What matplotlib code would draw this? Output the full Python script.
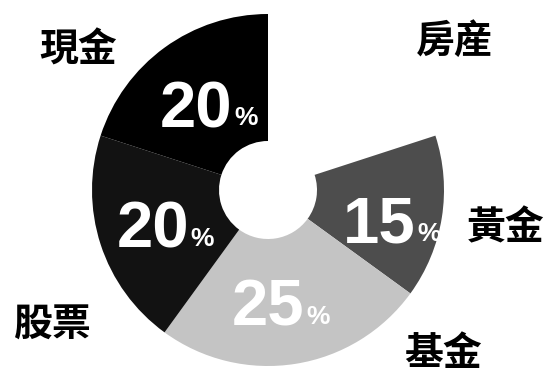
import numpy as np
import matplotlib.pyplot as plt

# data
categories = ['房産', '黃金', '基金', '股票', '現金']
shares = [20, 15, 25, 20, 20]
colors = ['#ffffff', '#4d4d4d', '#c4c4c4', '#121212', '#000000']
show_pct = [False, True, True, True, True]

# layout (pixel units, origin bottom-left)
W, H = 547, 373
cx, cy = 268, 183
R, r_in = 176, 49

fig = plt.figure(figsize=(W / 100, H / 100), dpi=100)
ax = fig.add_axes([0, 0, 1, 1])

wedges, _ = ax.pie(shares, colors=colors, startangle=90, counterclock=False,
                   center=(cx, cy), radius=R,
                   wedgeprops=dict(width=R - r_in, linewidth=0))
ax.set_xlim(0, W)
ax.set_ylim(0, H)
ax.set_aspect('equal')
ax.axis('off')

# percentage labels: radius fraction and angle tweak per slice
pct_r = [0.6, 0.74, 0.68, 0.62, 0.56]
pct_da = [0, -7, -2, 4, 0]
cjk = ['Noto Sans CJK TC', 'DejaVu Sans']

for w, v, show, rf, da in zip(wedges, shares, show_pct, pct_r, pct_da):
    if not show:
        continue
    mid = np.deg2rad((w.theta1 + w.theta2) / 2 + da)
    x = cx + rf * R * np.cos(mid)
    y = cy + rf * R * np.sin(mid)
    ax.text(x + 22, y, str(v), ha='right', va='center', color='white',
            fontsize=47, fontweight='bold', family='Liberation Sans')
    ax.text(x + 24, y - 8, '%', ha='left', va='center', color='white',
            fontsize=19, fontweight='bold', family='Liberation Sans')

# category labels around the ring
lab_pos = {'現金': (78, 323), '房産': (455, 332), '黃金': (506, 145),
           '股票': (53, 48), '基金': (443, 20)}
for name in categories:
    x, y = lab_pos[name]
    ax.text(x, y, name, ha='center', va='center', fontsize=28,
            fontweight='bold', family=cjk, color='black')

fig.savefig('out.png', dpi=100)
